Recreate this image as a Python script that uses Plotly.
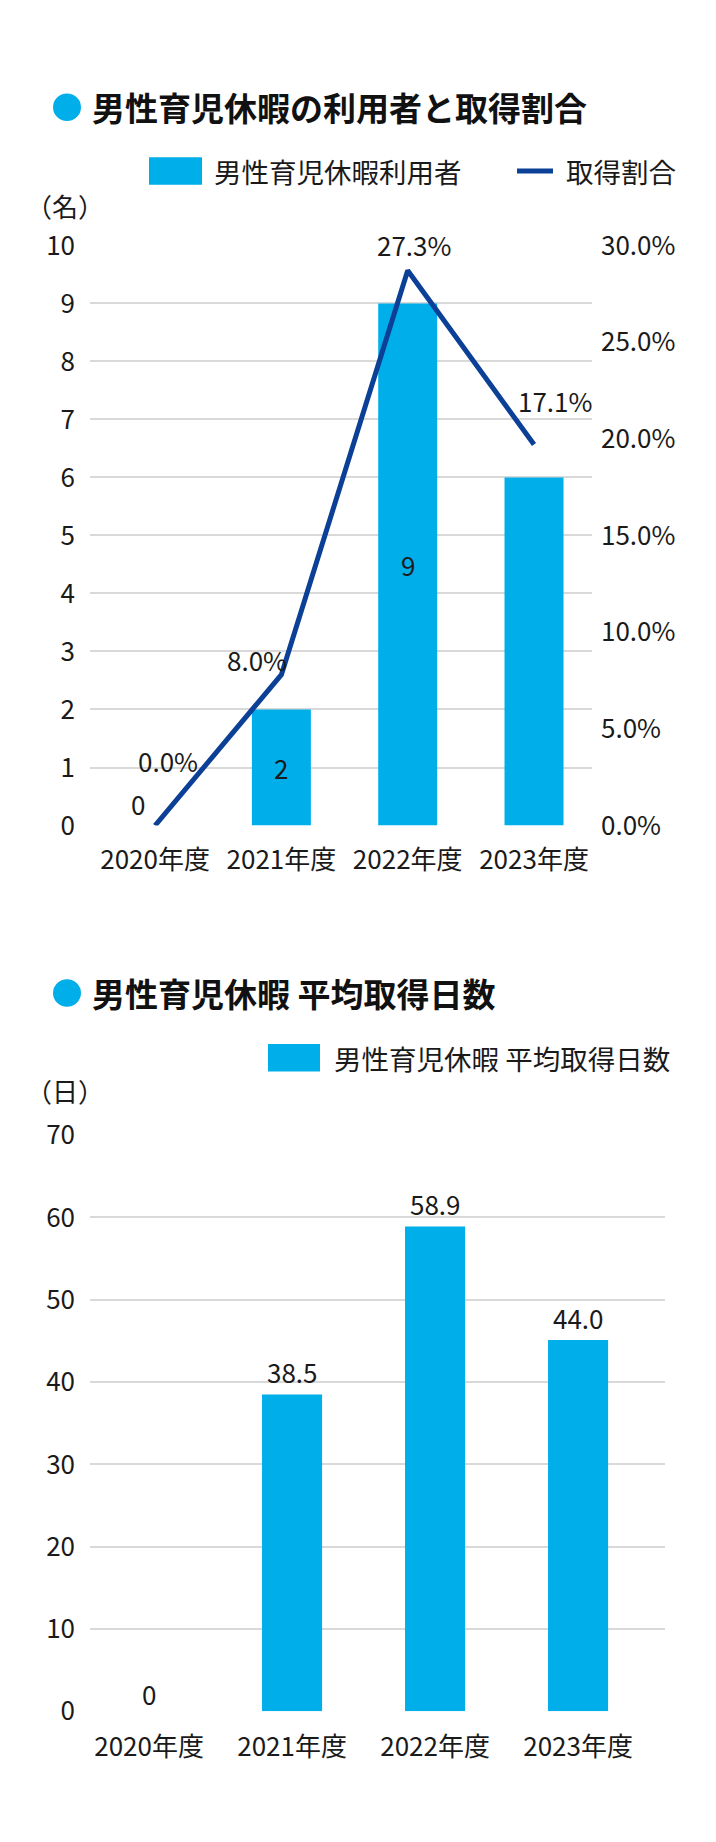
import plotly.graph_objects as go

# ---------------- data ----------------
years = ["2020年度", "2021年度", "2022年度", "2023年度"]

users = [0, 2, 9, 6]                      # 男性育児休暇利用者 (名)
user_labels = ["0", "2", "9", ""]

rate = [0.0, 7.8, 28.7, 19.7]             # 取得割合 (%) as drawn
rate_labels = ["0.0%", "8.0%", "27.3%", "17.1%"]

days = [0, 38.5, 58.9, 45.1]              # 平均取得日数 (日) as drawn
days_labels = ["0", "38.5", "58.9", "44.0"]

left_ticks1 = list(range(0, 11))
right_ticks1 = [0, 5, 10, 15, 20, 25, 30]
left_ticks2 = list(range(0, 71, 10))

# ---------------- style ----------------
W, H = 716, 1842
FONT = "Noto Sans CJK JP"
TXT = "#1a1a1a"
CYAN = "#00AEEA"
NAVY = "#0B4096"
GRID = "#D9D9D9"
FS = 26
FS_LEG = 27.5
FS_TITLE = 33


def px(x):
    return x / W


def py(y):
    return 1 - y / H


fig = go.Figure()

# chart 1 bars
fig.add_trace(go.Bar(
    x=list(range(len(years))), y=users, xaxis="x", yaxis="y",
    marker=dict(color=CYAN, line=dict(width=0)), width=0.467,
    showlegend=False, hoverinfo="skip",
))
# chart 1 line
fig.add_trace(go.Scatter(
    x=list(range(len(years))), y=rate, xaxis="x", yaxis="y2",
    mode="lines", line=dict(color=NAVY, width=5),
    showlegend=False, hoverinfo="skip",
))
# chart 2 bars
fig.add_trace(go.Bar(
    x=list(range(len(years))), y=days, xaxis="x2", yaxis="y3",
    marker=dict(color=CYAN, line=dict(width=0)), width=0.42,
    showlegend=False, hoverinfo="skip",
))

tickfont = dict(family=FONT, size=FS, color=TXT)

fig.update_layout(
    width=W, height=H, autosize=False,
    margin=dict(l=0, r=0, t=0, b=0),
    paper_bgcolor="white", plot_bgcolor="white",
    font=dict(family=FONT, size=FS, color=TXT),
    xaxis=dict(
        domain=[px(90), px(592)], anchor="y",
        range=[-0.515, 3.459], tickmode="array",
        tickvals=list(range(len(years))), ticktext=years,
        tickfont=tickfont, showgrid=False, zeroline=False, showline=False,
        ticks="", ticklabelstandoff=16, fixedrange=True,
    ),
    yaxis=dict(
        domain=[py(821), py(229)], anchor="x",
        range=[0, 10], tickmode="array", tickvals=left_ticks1,
        tickfont=tickfont, showgrid=True, gridcolor=GRID, gridwidth=2,
        zeroline=False, showline=False, ticks="", ticklabelstandoff=14,
    ),
    yaxis2=dict(
        overlaying="y", side="right", anchor="x",
        range=[0, 30], tickmode="array", tickvals=right_ticks1,
        ticktext=[f"{v:.1f}%" for v in right_ticks1],
        tickfont=tickfont, showgrid=False, zeroline=False, showline=False,
        ticks="", ticklabelstandoff=8,
    ),
    xaxis2=dict(
        domain=[px(90), px(665)], anchor="y3",
        range=[-0.413, 3.608], tickmode="array",
        tickvals=list(range(len(years))), ticktext=years,
        tickfont=tickfont, showgrid=False, zeroline=False, showline=False,
        ticks="", ticklabelstandoff=18,
    ),
    yaxis3=dict(
        domain=[py(1725), py(1137)], anchor="x2",
        range=[0, 70], tickmode="array", tickvals=left_ticks2,
        tickfont=tickfont, showgrid=True, gridcolor=GRID, gridwidth=2,
        zeroline=False, showline=False, ticks="", ticklabelstandoff=14,
    ),
)

ann = []
shapes = []

# titles with circle bullets
for title, cy in [("男性育児休暇の利用者と取得割合", 88), ("男性育児休暇 平均取得日数", 992)]:
    shapes.append(dict(type="circle", xref="paper", yref="paper",
                       x0=px(53), x1=px(81), y0=py(cy + 14), y1=py(cy - 14),
                       fillcolor=CYAN, line=dict(width=0)))
    ann.append(dict(text=f"<b>{title}</b>", xref="paper", yref="paper",
                    x=px(90), y=py(cy), xanchor="left", yanchor="middle",
                    showarrow=False, font=dict(family=FONT, size=FS_TITLE, color="#111")))

# legend chart 1
shapes.append(dict(type="rect", xref="paper", yref="paper",
                   x0=px(149), x1=px(202), y0=py(167), y1=py(139),
                   fillcolor=CYAN, line=dict(width=0)))
ann.append(dict(text="男性育児休暇利用者", xref="paper", yref="paper",
                x=px(212), y=py(153), xanchor="left", yanchor="middle",
                showarrow=False, font=dict(family=FONT, size=FS_LEG, color=TXT)))
shapes.append(dict(type="line", xref="paper", yref="paper",
                   x0=px(517), x1=px(553), y0=py(153), y1=py(153),
                   line=dict(color=NAVY, width=5)))
ann.append(dict(text="取得割合", xref="paper", yref="paper",
                x=px(564), y=py(153), xanchor="left", yanchor="middle",
                showarrow=False, font=dict(family=FONT, size=FS_LEG, color=TXT)))

# legend chart 2
shapes.append(dict(type="rect", xref="paper", yref="paper",
                   x0=px(268), x1=px(320), y0=py(1072), y1=py(1044),
                   fillcolor=CYAN, line=dict(width=0)))
ann.append(dict(text="男性育児休暇 平均取得日数", xref="paper", yref="paper",
                x=px(332), y=py(1058), xanchor="left", yanchor="middle",
                showarrow=False, font=dict(family=FONT, size=FS_LEG, color=TXT)))

# unit labels
ann.append(dict(text="（名）", xref="paper", yref="paper", x=px(24), y=py(188),
                xanchor="left", yanchor="middle", showarrow=False,
                font=dict(family=FONT, size=FS, color=TXT)))
ann.append(dict(text="（日）", xref="paper", yref="paper", x=px(24), y=py(1091),
                xanchor="left", yanchor="middle", showarrow=False,
                font=dict(family=FONT, size=FS, color=TXT)))

# chart 1 bar labels
for i, (v, lab) in enumerate(zip(users, user_labels)):
    if not lab:
        continue
    if v == 0:
        ann.append(dict(text=lab, xref="x", yref="y", x=i, y=v, xshift=-17, yshift=22,
                        showarrow=False, font=dict(family=FONT, size=FS, color=TXT)))
    else:
        ann.append(dict(text=lab, xref="x", yref="y", x=i, y=v / 2,
                        showarrow=False, font=dict(family=FONT, size=FS, color=TXT)))

# chart 1 line labels
line_shift = [(13, 65), (-24, 15), (6, 26), (21, 44)]
for i, (v, lab) in enumerate(zip(rate, rate_labels)):
    dx, dy = line_shift[i]
    ann.append(dict(text=lab, xref="x", yref="y2", x=i, y=v, xshift=dx, yshift=dy,
                    showarrow=False, font=dict(family=FONT, size=FS, color=TXT)))

# chart 2 bar labels
for i, (v, lab) in enumerate(zip(days, days_labels)):
    ann.append(dict(text=lab, xref="x2", yref="y3", x=i, y=v,
                    yshift=(18 if v == 0 else 23),
                    showarrow=False, font=dict(family=FONT, size=FS, color=TXT)))

fig.update_layout(annotations=ann, shapes=shapes)

fig.write_html(
    "out.html",
    config={"displayModeBar": False},
    post_script="document.body.style.margin='0';document.body.style.overflow='hidden';",
)
